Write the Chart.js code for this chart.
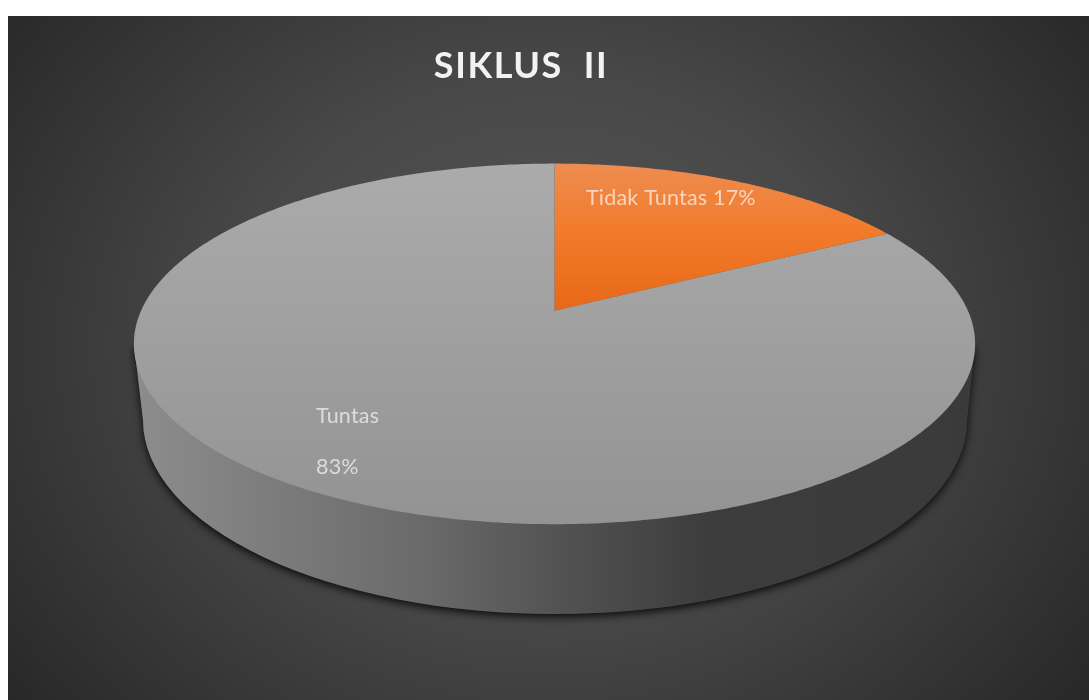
<!DOCTYPE html>
<html>
<head>
<meta charset="utf-8">
<style>
html,body{margin:0;padding:0;background:#fff;width:1089px;height:700px;overflow:hidden}
canvas{display:block}
</style>
<script src="https://cdn.jsdelivr.net/npm/chart.js@4"></script>
</head>
<body>
<canvas id="c" width="1089" height="700"></canvas>
<script>
const chartTitle = 'SIKLUS  II';
const categories = ['Tidak Tuntas', 'Tuntas'];
const percentages = [17, 83];

// perspective of the tilted disc, relative to the arc centre given by the library
const view = { shiftX: 33.5, scaleX: 2.81, scaleY: 1.184, tilt: 0.1833 };
const wall = { cx: 555, cy: 420, rx: 412, ry: 194 };

const canvas = document.getElementById('c');
const g = canvas.getContext('2d');

function vGrad(y0, y1, stops) {
  const lg = g.createLinearGradient(0, y0, 0, y1);
  stops.forEach(s => lg.addColorStop(s[0], s[1]));
  return lg;
}
const sliceFills = [
  vGrad(164, 311, [[0, '#ee8c50'], [0.45, '#f27b2b'], [1, '#e76818']]),
  vGrad(164, 524, [[0, '#ababab'], [1, '#939393']])
];

function project(el, angle) {
  const r = el.outerRadius, u = Math.cos(angle), v = -Math.sin(angle);
  const w = 1 + view.tilt * v;
  return [el.x + view.shiftX + view.scaleX * r * u / w, el.y - view.scaleY * r * v / w];
}

function drawPerspectiveArc(ctx) {
  const el = this, steps = Math.max(8, Math.ceil((el.endAngle - el.startAngle) * 80));
  ctx.save();
  ctx.beginPath();
  ctx.moveTo(el.x + view.shiftX, el.y);
  for (let i = 0; i <= steps; i++) {
    const p = project(el, el.startAngle + (el.endAngle - el.startAngle) * i / steps);
    ctx.lineTo(p[0], p[1]);
  }
  ctx.closePath();
  ctx.fillStyle = el.options.backgroundColor;
  ctx.fill();
  ctx.restore();
}

const backdrop = {
  id: 'backdrop',
  beforeDraw(chart) {
    const ctx = chart.ctx;
    ctx.save();
    ctx.beginPath();
    ctx.rect(8, 16, 1081, 684);
    ctx.clip();
    ctx.translate(545, 345);
    ctx.scale(1, 0.85);
    const rg = ctx.createRadialGradient(0, 0, 0, 0, 0, 700);
    rg.addColorStop(0, '#575757');
    rg.addColorStop(0.45, '#484848');
    rg.addColorStop(1, '#262626');
    ctx.fillStyle = rg;
    ctx.fillRect(-800, -600, 1600, 1200);
    ctx.restore();
    ctx.letterSpacing = '1.6px';
  }
};

const disc3d = {
  id: 'disc3d',
  beforeDatasetsDraw(chart) {
    const ctx = chart.ctx;
    ctx.letterSpacing = '0px';
    const meta = chart.getDatasetMeta(0);
    meta.data.forEach(el => { el.draw = drawPerspectiveArc; });
    const el = meta.data[0];
    const cy = el.y + view.scaleY * el.outerRadius * view.tilt / (1 - view.tilt * view.tilt);
    const rimX = view.scaleX * el.outerRadius / Math.sqrt(1 - view.tilt * view.tilt);
    const cx = el.x + view.shiftX;
    const xL = wall.cx - wall.rx, xR = wall.cx + wall.rx;
    const path = () => {
      ctx.beginPath();
      ctx.moveTo(cx - rimX, cy);
      ctx.lineTo(xL, wall.cy);
      ctx.ellipse(wall.cx, wall.cy, wall.rx, wall.ry, 0, Math.PI, 0, true);
      ctx.lineTo(cx + rimX, cy);
      ctx.closePath();
    };
    ctx.save();
    ctx.shadowColor = 'rgba(0,0,0,0.85)';
    ctx.shadowBlur = 9;
    ctx.shadowOffsetY = 3;
    ctx.fillStyle = '#333';
    path();
    ctx.fill();
    ctx.restore();
    const lg = ctx.createLinearGradient(140, 0, 970, 0);
    lg.addColorStop(0, '#8c8c8c');
    lg.addColorStop(0.34, '#6a6a6a');
    lg.addColorStop(0.5, '#535353');
    lg.addColorStop(0.68, '#3d3d3d');
    lg.addColorStop(1, '#3a3a3a');
    ctx.save();
    ctx.fillStyle = lg;
    path();
    ctx.fill();
    ctx.restore();
  },
  afterDatasetsDraw(chart) {
    const ctx = chart.ctx;
    ctx.save();
    ctx.font = '21.5px Lato, sans-serif';
    ctx.letterSpacing = '0.2px';
    ctx.fillStyle = 'rgba(255,255,255,0.65)';
    ctx.textAlign = 'left';
    ctx.textBaseline = 'alphabetic';
    ctx.fillText(categories[0] + ' ' + percentages[0] + '%', 586, 205);
    ctx.fillText(categories[1], 316, 423);
    ctx.fillText(percentages[1] + '%', 316, 474);
    ctx.restore();
  }
};

new Chart(canvas, {
  type: 'pie',
  data: {
    labels: categories,
    datasets: [{ data: percentages, backgroundColor: sliceFills, borderWidth: 0 }]
  },
  options: {
    responsive: false,
    animation: false,
    events: [],
    layout: { padding: { left: 0, right: 47, top: 0, bottom: 242 } },
    plugins: {
      legend: { display: false },
      tooltip: { enabled: false },
      title: {
        display: true,
        text: chartTitle,
        color: '#f2f2f2',
        font: { family: 'Lato, sans-serif', size: 36, weight: 'bold' },
        padding: { top: 44.5, bottom: 76 }
      }
    }
  },
  plugins: [backdrop, disc3d]
});
</script>
</body>
</html>
